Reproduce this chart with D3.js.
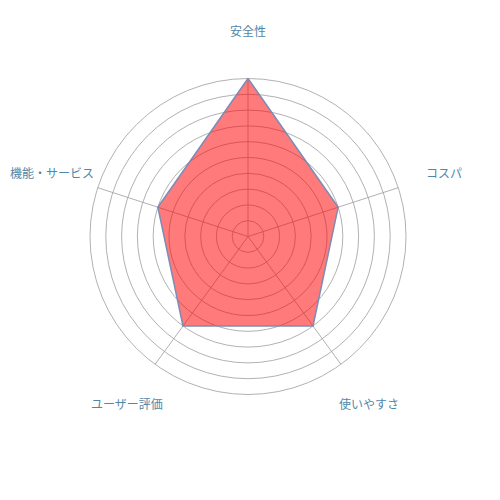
<!DOCTYPE html>
<html>
<head>
<meta charset="utf-8">
<script src="https://cdn.jsdelivr.net/npm/d3@7"></script>
<style>
  body { margin: 0; background: #fff; }
  svg { display: block; }
</style>
</head>
<body>
<svg id="chart"></svg>
<script>
const axes = ["安全性", "コスパ", "使いやすさ", "ユーザー評価", "機能・サービス"];
const scores = [10, 6, 7, 7, 6];
const ringLevels = [1, 2, 3, 4, 5, 6, 7, 8, 9, 10];

const width = 500, height = 500;
const cx = 248, cy = 236.5;
const radius = 158;
const labelRadius = 206;

const svg = d3.select("#chart")
  .attr("width", width)
  .attr("height", height);

const g = svg.append("g").attr("transform", `translate(${cx},${cy})`);

// radial scale
const r = d3.scaleLinear().domain([0, 10]).range([0, radius]);

// angle per axis, first axis straight up
const angle = d3.scalePoint()
  .domain(axes)
  .range([0, 2 * Math.PI * (axes.length - 1) / axes.length]);

const pt = (name, v) => {
  const a = angle(name) - Math.PI / 2;
  return [Math.cos(a) * r(v), Math.sin(a) * r(v)];
};

// grid rings
g.append("g")
  .selectAll("circle")
  .data(ringLevels)
  .join("circle")
  .attr("r", d => r(d))
  .attr("fill", "none")
  .attr("stroke", "#a8a8a8")
  .attr("stroke-width", 0.9);

// spokes
g.append("g")
  .selectAll("line")
  .data(axes)
  .join("line")
  .attr("x1", 0)
  .attr("y1", 0)
  .attr("x2", d => pt(d, 10)[0])
  .attr("y2", d => pt(d, 10)[1])
  .attr("stroke", "#a8a8a8")
  .attr("stroke-width", 0.9);

// data area
const line = d3.lineRadial()
  .angle((d, i) => angle(axes[i]))
  .radius(d => r(d))
  .curve(d3.curveLinearClosed);

g.append("path")
  .datum(scores)
  .attr("d", line)
  .attr("fill", "rgba(255,0,0,0.52)")
  .attr("stroke", "#7d8cb5")
  .attr("stroke-width", 1.5)
  .attr("stroke-linejoin", "round");

// axis labels
g.append("g")
  .selectAll("text")
  .data(axes)
  .join("text")
  .attr("x", d => {
    const a = angle(d) - Math.PI / 2;
    return Math.cos(a) * labelRadius;
  })
  .attr("y", d => {
    const a = angle(d) - Math.PI / 2;
    return Math.sin(a) * labelRadius;
  })
  .attr("text-anchor", "middle")
  .attr("dominant-baseline", "central")
  .attr("font-family", "'Noto Sans CJK JP', sans-serif")
  .attr("font-size", 12)
  .attr("fill", "#4f87aa")
  .text(d => d);
</script>
</body>
</html>
